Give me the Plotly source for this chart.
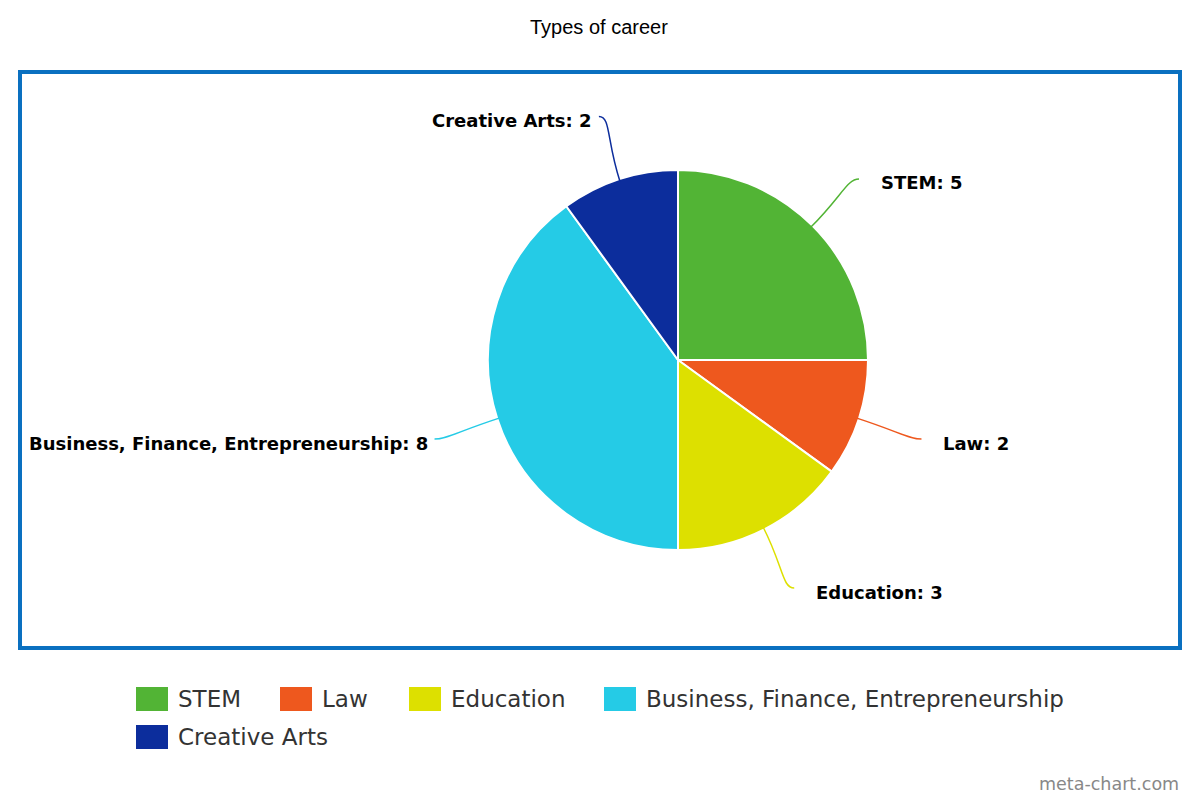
import math
import plotly.graph_objects as go

# ---- data ----
CATEGORIES = ["STEM", "Law", "Education", "Business, Finance, Entrepreneurship", "Creative Arts"]
VALUES = [5, 2, 3, 8, 2]
COLORS = ["#52b435", "#ee581e", "#dde000", "#25cbe6", "#0c2d9c"]

# ---- layout (screen pixel space) ----
OFF = 8                              # default body margin of the page
W, H = 1200 - OFF, 800 - OFF
CX, CY, R = 678, 360, 190            # pie centre / radius in px
LABEL_R = 256                        # where connectors end
LEGEND_X = [136, 280, 409, 604, 136]
LEGEND_Y = [699, 699, 699, 699, 737]
BORDER = "#0a70c0"

fig = go.Figure()

fig.add_trace(go.Pie(
    labels=CATEGORIES,
    values=VALUES,
    sort=False,
    direction="clockwise",
    rotation=0,
    textinfo="none",
    hoverinfo="label+value",
    marker=dict(colors=COLORS, line=dict(color="white", width=2)),
    domain=dict(x=[(CX - R - OFF) / W, (CX + R - OFF) / W],
                y=[(800 - (CY + R)) / H, (800 - (CY - R)) / H]),
    showlegend=False,
))

shapes = [dict(type="rect", xref="x", yref="y", x0=20, x1=1180, y0=72, y1=648,
               line=dict(color=BORDER, width=4), layer="below")]
annotations = []

# connectors and labels, placed from the slice mid-angles
total = sum(VALUES)
cum = 0
for cat, val, col in zip(CATEGORIES, VALUES, COLORS):
    mid = (cum + val / 2) / total * 2 * math.pi
    cum += val
    sx, sy = math.sin(mid), -math.cos(mid)
    side = 1 if sx >= 0 else -1
    x0, y0 = CX + (R - 2) * sx, CY + (R - 2) * sy
    x1, y1 = CX + 232 * sx, CY + 232 * sy
    ex, ey = CX + LABEL_R * sx, CY + LABEL_R * sy
    path = f"M{x0},{y0} C{x1},{y1} {ex - side * 12},{ey} {ex},{ey}"
    shapes.append(dict(type="path", xref="x", yref="y", path=path,
                       line=dict(color=col, width=1.5)))
    annotations.append(dict(
        x=ex + (20 if side > 0 else -5), y=ey + 4, xref="x", yref="y",
        text=f"<b>{cat}: {val}</b>", showarrow=False,
        xanchor="left" if side > 0 else "right", yanchor="middle",
        font=dict(family="DejaVu Sans", size=18, color="#000000"),
    ))

# custom legend
for cat, col, lx, ly in zip(CATEGORIES, COLORS, LEGEND_X, LEGEND_Y):
    shapes.append(dict(type="rect", xref="x", yref="y", x0=lx, x1=lx + 32,
                       y0=ly - 12, y1=ly + 12, fillcolor=col, line_width=0))
    annotations.append(dict(
        x=lx + 40, y=ly, xref="x", yref="y", text=cat, showarrow=False,
        xanchor="left", yanchor="middle",
        font=dict(family="DejaVu Sans", size=23, color="#333333"),
    ))

# title and credit
annotations.append(dict(x=599, y=27, xref="x", yref="y", text="Types of career",
                        showarrow=False, xanchor="center", yanchor="middle",
                        font=dict(family="Liberation Sans, Arial", size=20, color="#000000")))
annotations.append(dict(x=1181, y=784, xref="x", yref="y", text="meta-chart.com",
                        showarrow=False, xanchor="right", yanchor="middle",
                        font=dict(family="DejaVu Sans", size=17.5, color="#888888")))

fig.update_layout(
    width=W, height=H,
    margin=dict(l=0, r=0, t=0, b=0),
    paper_bgcolor="white",
    plot_bgcolor="white",
    xaxis=dict(range=[OFF, 1200], visible=False, fixedrange=True),
    yaxis=dict(range=[800, OFF], visible=False, fixedrange=True),
    shapes=shapes,
    annotations=annotations,
    showlegend=False,
)

fig.write_html("out.html")
